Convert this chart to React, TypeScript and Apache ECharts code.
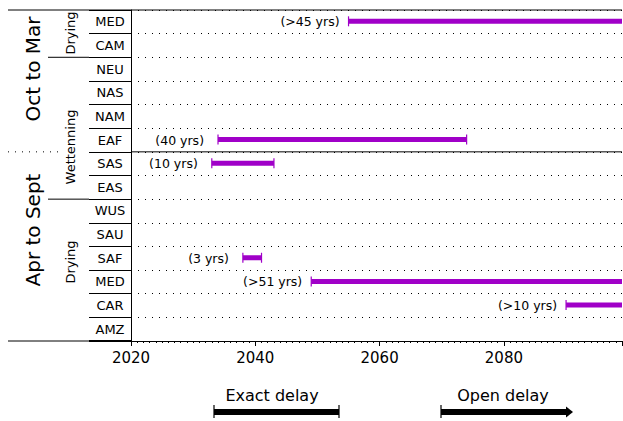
import React, { useEffect, useRef } from "react";
import * as echarts from "echarts";

// ---- data ----
const regions = ["MED", "CAM", "NEU", "NAS", "NAM", "EAF", "SAS", "EAS", "WUS", "SAU", "SAF", "MED", "CAR", "AMZ"];
const barRows = [0, 5, 6, 10, 11, 12];
const barStart = [2055, 2034, 2033, 2038, 2049, 2090];
const barEnd = [2099, 2074, 2043, 2041, 2099, 2099];
const barOpen = [1, 0, 0, 0, 1, 1];
const barLabels = ["(>45 yrs)", "(40 yrs)", "(10 yrs)", "(3 yrs)", "(>51 yrs)", "(>10 yrs)"];
const xTicks = [2020, 2040, 2060, 2080];
const seasonLabels = ["Oct to Mar", "Apr to Sept"];
const groupLabels = ["Drying", "Wettenning", "Drying"];
const legendLabels = ["Exact delay", "Open delay"];

const PURPLE = "#A000C8";
const FONT = "DejaVu Sans";
const LIGHT = "'DejaVu Sans ExtraLight', 'DejaVu Sans'";

// layout
const W = 623, H = 421;
const GL = 131, GR = 1, GT = 10, GB = 80;
const plotH = H - GT - GB;
const rowH = plotH / regions.length;
const by = (i: number) => GT + i * rowH;

export default function App() {
  const ref = useRef<HTMLDivElement>(null);
  useEffect(() => {
    const chart = echarts.init(ref.current!, null, { renderer: "svg" });
    const seriesData = barRows.map((r, i) => [r, barStart[i], barEnd[i], barOpen[i]]);
    const black = "#000";
    const line = (x1: number, y1: number, x2: number, y2: number, w = 1, dash?: number[]) => ({
      type: "line",
      shape: { x1, y1, x2, y2 },
      style: { stroke: black, lineWidth: w, lineDash: dash },
      silent: true,
    });
    const vtext = (t: string, x: number, y: number, size: number, family = FONT) => ({
      type: "text",
      x,
      y,
      rotation: Math.PI / 2,
      style: { text: t, fontSize: size, fontFamily: family, fill: black, align: "center", verticalAlign: "middle" },
      silent: true,
    });
    const ly = 412;
    const option: any = {
      animation: false,
      backgroundColor: "#fff",
      grid: { left: GL, right: GR, top: GT, bottom: GB },
      xAxis: {
        type: "value",
        min: 2020,
        max: 2099,
        interval: 20,
        splitLine: { show: false },
        axisLine: { show: true, lineStyle: { color: black, width: 1 } },
        axisTick: { show: true, length: 5, lineStyle: { color: black } },
        minorTick: { show: true, splitNumber: 20, length: 2, lineStyle: { color: black } },
        axisLabel: {
          color: black,
          fontSize: 15,
          fontFamily: LIGHT,
          margin: 9,
          showMaxLabel: false,
          formatter: (v: number) => (xTicks.includes(v) ? String(v) : ""),
        },
      },
      yAxis: {
        type: "category",
        inverse: true,
        data: regions,
        boundaryGap: true,
        axisLine: { show: true, lineStyle: { color: black, width: 1 } },
        axisTick: { show: true, length: 42, lineStyle: { color: black } },
        axisLabel: { color: black, fontSize: 13, fontFamily: FONT, margin: 21, align: "center" },
        splitLine: { show: true, lineStyle: { color: black, width: 1, type: [1, 6] } },
      },
      series: [
        {
          type: "custom",
          encode: { x: [1, 2], y: 0 },
          data: seriesData,
          clip: false,
          renderItem: (params: any, api: any) => {
            const row = api.value(0);
            const s = api.value(1);
            const e = api.value(2);
            const open = api.value(3);
            const p0 = api.coord([s, row]);
            const p1 = api.coord([e, row]);
            const y = p0[1] - 0.5;
            const children: any[] = [
              {
                type: "rect",
                shape: { x: p0[0], y: y - 2.5, width: p1[0] - p0[0], height: 5 },
                style: { fill: PURPLE },
              },
              {
                type: "line",
                shape: { x1: p0[0], y1: y - 5, x2: p0[0], y2: y + 5 },
                style: { stroke: PURPLE, lineWidth: 1.2 },
              },
              {
                type: "text",
                x: p0[0] - (open ? 9 : 14),
                y: y + 0.5,
                style: {
                  text: barLabels[params.dataIndex],
                  fontSize: 12.5,
                  fontFamily: FONT,
                  fill: black,
                  align: "right",
                  verticalAlign: "middle",
                },
              },
            ];
            if (!open) {
              children.push({
                type: "line",
                shape: { x1: p1[0], y1: y - 5, x2: p1[0], y2: y + 5 },
                style: { stroke: PURPLE, lineWidth: 1.2 },
              });
            }
            return { type: "group", children };
          },
        },
      ],
      graphic: [
        line(8, GT, W - GR, GT, 1),
        line(8, GT + plotH, GL, GT + plotH, 1),
        line(89, GT + plotH, GL, GT + plotH, 2),
        line(GL, by(6), W - GR, by(6), 1),
        line(8, by(6), 60, by(6), 1, [1, 6]),
        line(48, by(2), 89, by(2), 1),
        line(48, by(8), 89, by(8), 1),
        vtext(seasonLabels[0], 33, 69, 20, LIGHT),
        vtext(seasonLabels[1], 33, 230, 20, LIGHT),
        vtext(groupLabels[0], 70, 33, 13),
        vtext(groupLabels[1], 70, 147, 13),
        vtext(groupLabels[2], 70, 262, 13),
        {
          type: "text",
          x: 272,
          y: 395,
          style: { text: legendLabels[0], fontSize: 16, fontFamily: LIGHT, fill: black, align: "center", verticalAlign: "middle" },
        },
        { type: "rect", shape: { x: 214, y: ly - 3, width: 125, height: 6 }, style: { fill: black } },
        line(214, ly - 7, 214, ly + 6, 1.2),
        line(339, ly - 7, 339, ly + 6, 1.2),
        {
          type: "text",
          x: 503,
          y: 395,
          style: { text: legendLabels[1], fontSize: 16, fontFamily: LIGHT, fill: black, align: "center", verticalAlign: "middle" },
        },
        { type: "rect", shape: { x: 441, y: ly - 3, width: 126, height: 6 }, style: { fill: black } },
        {
          type: "polygon",
          shape: { points: [[566, ly - 5.5], [573, ly], [566, ly + 5.5]] },
          style: { fill: black },
        },
        line(441, ly - 7, 441, ly + 6, 1.2),
      ],
    };
    chart.setOption(option);
    return () => chart.dispose();
  }, []);
  return (
    <div
      ref={ref}
      style={{ position: "fixed", left: 0, top: 0, width: W, height: H, background: "#fff" }}
    />
  );
}
